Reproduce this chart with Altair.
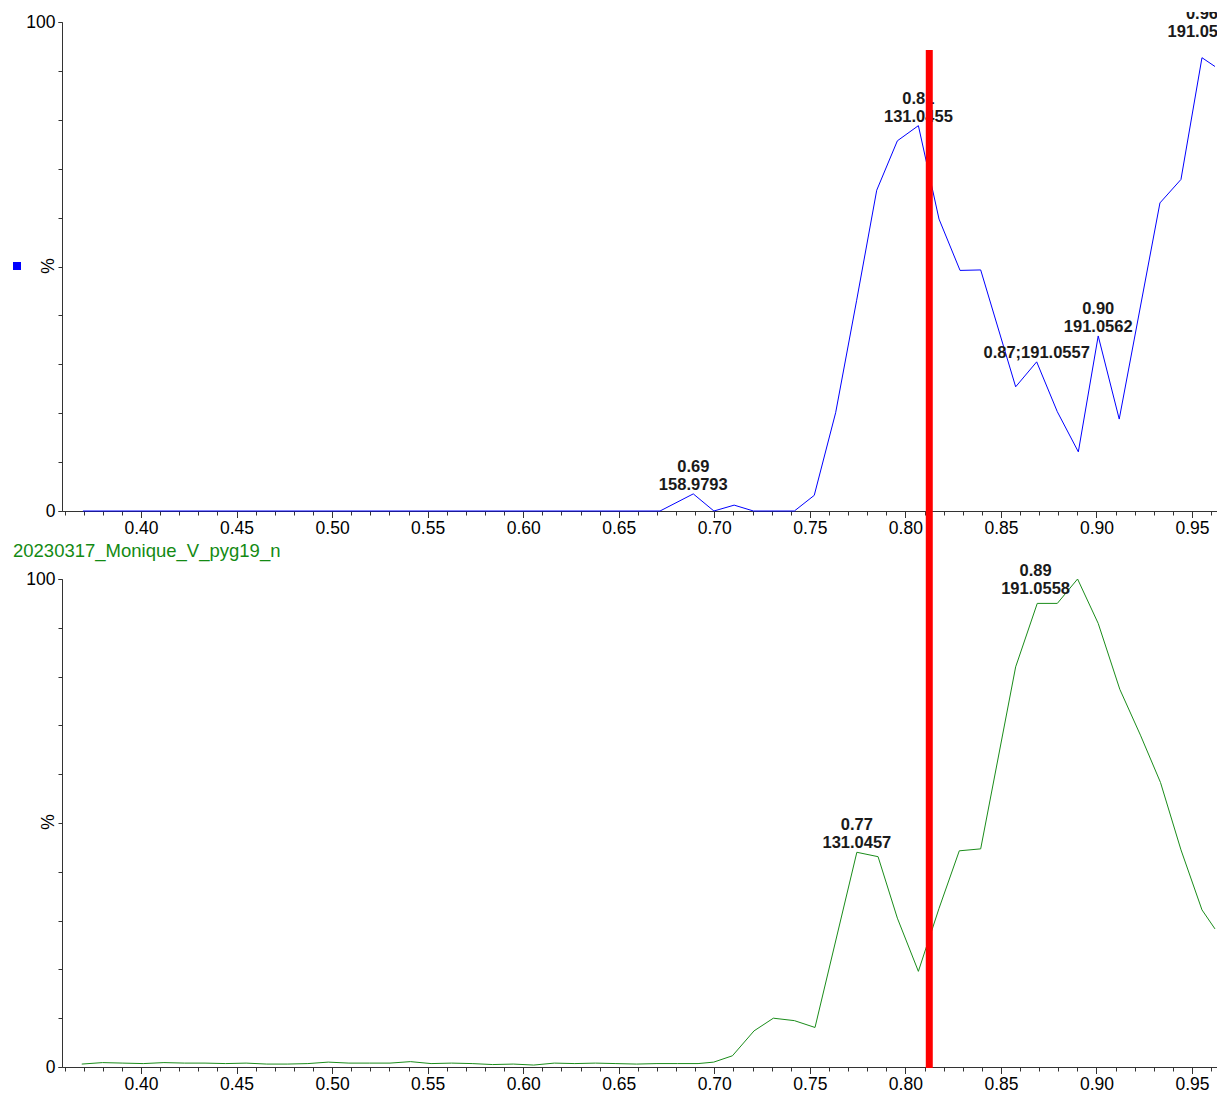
import altair as alt
import pandas as pd

FONT = "Liberation Sans"
BLUE = "#0000ff"
GREEN = "#1a8c1a"
HEADER_GREEN = "#138a13"

# Upper trace: retention time (min) and relative intensity (%)
TOP_RT = [0.3696, 0.6716, 0.6890, 0.6998, 0.7104, 0.7205, 0.7419, 0.7523,
          0.7635, 0.7745, 0.7850, 0.7958, 0.8068, 0.8176, 0.8286, 0.8394,
          0.8577, 0.8687, 0.8795, 0.8905, 0.9009, 0.9119, 0.9332, 0.9442,
          0.9552, 0.9620]
TOP_PCT = [0.0, 0.0, 3.5, 0.0, 1.2, 0.0, 0.0, 3.2,
           20.1, 43.1, 65.6, 75.7, 78.8, 59.7, 49.2, 49.3,
           25.4, 30.5, 20.3, 12.1, 35.8, 18.8, 63.0, 67.8,
           92.7, 90.9]

# Lower trace: 20230317_Monique_V_pyg19_n
BOT_RT = [0.3690, 0.3799, 0.3905, 0.4012, 0.4120, 0.4228, 0.4335, 0.4443,
          0.4550, 0.4658, 0.4765, 0.4873, 0.4980, 0.5088, 0.5195, 0.5303,
          0.5410, 0.5518, 0.5625, 0.5733, 0.5840, 0.5948, 0.6055, 0.6163,
          0.6270, 0.6378, 0.6485, 0.6593, 0.6700, 0.6808, 0.6915, 0.6997,
          0.7095, 0.7208, 0.7309, 0.7419, 0.7527, 0.7746, 0.7857, 0.7958,
          0.8068, 0.8176, 0.8282, 0.8394, 0.8577, 0.8690, 0.8795, 0.8901,
          0.9009, 0.9122, 0.9230, 0.9335, 0.9442, 0.9552, 0.9620]
BOT_PCT = [0.6, 0.9, 0.8, 0.7, 0.9, 0.8, 0.8, 0.7,
           0.8, 0.6, 0.6, 0.7, 1.0, 0.8, 0.8, 0.8,
           1.1, 0.7, 0.8, 0.7, 0.5, 0.6, 0.4, 0.8,
           0.7, 0.8, 0.7, 0.6, 0.7, 0.7, 0.7, 1.0,
           2.3, 7.4, 10.0, 9.5, 8.1, 44.0, 43.1, 30.5,
           19.6, 32.5, 44.3, 44.7, 82.0, 95.0, 95.0, 100.0,
           90.9, 77.4, 68.0, 58.3, 44.5, 32.2, 28.3]

# Peak annotations: apex retention time, apex intensity, m/z, one-line flag
TOP_PEAK_RT = [0.6890, 0.8068, 0.9009, 0.8687, 0.9552]
TOP_PEAK_PCT = [3.5, 78.8, 35.8, 30.5, 92.7]
TOP_PEAK_MZ = ["158.9793", "131.0455", "191.0562", "191.0557", "191.0561"]
TOP_PEAK_INLINE = [False, False, False, True, False]

BOT_PEAK_RT = [0.7746, 0.8901]
BOT_PEAK_PCT = [44.0, 100.0]
BOT_PEAK_MZ = ["131.0457", "191.0558"]
BOT_PEAK_INLINE = [False, False]

MARKER_RT = [0.8125]
SAMPLE_NAME = "20230317_Monique_V_pyg19_n"

X_DOMAIN = [0.35866, 0.96306]
X_MAJOR = [0.40, 0.45, 0.50, 0.55, 0.60, 0.65, 0.70, 0.75, 0.80, 0.85, 0.90, 0.95]
X_MINOR = [round(0.36 + 0.01 * i, 2) for i in range(61)]
Y_MAJOR = [0, 100]
Y_MINOR = list(range(0, 101, 10))

# Layout (pixels inside the plot area)
W, H = 1155, 1055
TOP_RANGE = [499, 10]
BOT_RANGE = [1055, 567]
LINE_H = 18
TICK_FONT = 17.5


def peak_table(rt, pct, mz, inline):
    rows = []
    for t, p, m, one in zip(rt, pct, mz, inline):
        sep = ";" if one else "\n"
        rows.append({"rt": t, "pct": p, "label": f"{t:.2f}{sep}{m}"})
    return pd.DataFrame(rows)


top_df = pd.DataFrame({"rt": TOP_RT, "pct": TOP_PCT})
bot_df = pd.DataFrame({"rt": BOT_RT, "pct": BOT_PCT})
top_peaks = peak_table(TOP_PEAK_RT, TOP_PEAK_PCT, TOP_PEAK_MZ, TOP_PEAK_INLINE)
bot_peaks = peak_table(BOT_PEAK_RT, BOT_PEAK_PCT, BOT_PEAK_MZ, BOT_PEAK_INLINE)

x_scale = alt.Scale(domain=X_DOMAIN, nice=False, zero=False)


def x_major_axis(offset):
    return alt.Axis(
        orient="bottom", offset=offset, values=X_MAJOR, title=None, grid=False,
        format=".2f", labelFont=FONT, labelFontSize=TICK_FONT, labelColor="black",
        labelOverlap=False, labelFlush=False, labelPadding=1.5,
        tickSize=6.5, tickColor="#333", domainColor="#333",
    )


def x_minor_axis(offset):
    return alt.Axis(
        orient="bottom", offset=offset, values=X_MINOR, title=None, grid=False,
        labels=False, domain=False, tickSize=4, tickColor="#333",
    )


def y_major_axis():
    return alt.Axis(
        orient="left", values=Y_MAJOR, title=None, grid=False, format="d",
        labelFont=FONT, labelFontSize=TICK_FONT, labelColor="black",
        labelOverlap=False, labelFlush=False, labelPadding=3,
        tickSize=4, tickColor="#333", domainColor="#333",
    )


def y_minor_axis():
    return alt.Axis(
        orient="left", values=Y_MINOR, title=None, grid=False,
        labels=False, domain=False, tickSize=4, tickColor="#333",
    )


def peak_labels(df, dx=0, dy=-1, x_axis=None, y_axis=None):
    return alt.Chart(df).mark_text(
        font=FONT, fontSize=16.5, fontWeight="bold", color="#1a1a1a",
        lineBreak="\n", lineHeight=LINE_H, baseline="bottom", align="center",
        dx=dx, dy=dy, clip=True,
    ).encode(
        x=alt.X("rt:Q", axis=x_axis),
        y=alt.Y("pct:Q", axis=y_axis),
        text="label:N",
    )


def pct_title(y_px):
    return alt.Chart(pd.DataFrame({"t": ["%"]})).mark_text(
        font=FONT, fontSize=TICK_FONT, color="black", angle=270,
        align="center", baseline="middle",
    ).encode(x=alt.value(-13), y=alt.value(y_px), text="t:N")


# Upper panel
top_line = alt.Chart(top_df).mark_line(color=BLUE, strokeWidth=1, clip=True).encode(
    x=alt.X("rt:Q", scale=x_scale, axis=x_major_axis(-556)),
    y=alt.Y("pct:Q", scale=alt.Scale(domain=[0, 100], range=TOP_RANGE, nice=False),
            axis=y_major_axis()),
)
top_panel = alt.layer(
    top_line,
    peak_labels(top_peaks.iloc[:3], dy=-1 - LINE_H,
                x_axis=x_minor_axis(-556), y_axis=y_minor_axis()),
    peak_labels(top_peaks.iloc[3:4], dy=-1),
    peak_labels(top_peaks.iloc[4:], dy=-18 - LINE_H),
).resolve_axis(x="independent", y="independent")

# Lower panel
bot_line = alt.Chart(bot_df).mark_line(color=GREEN, strokeWidth=1, clip=True).encode(
    x=alt.X("rt:Q", scale=x_scale, axis=x_major_axis(0)),
    y=alt.Y("pct:Q", scale=alt.Scale(domain=[0, 100], range=BOT_RANGE, nice=False),
            axis=y_major_axis()),
)
bot_panel = alt.layer(
    bot_line,
    peak_labels(bot_peaks.iloc[:1], dy=-1 - LINE_H,
                x_axis=x_minor_axis(0), y_axis=y_minor_axis()),
    peak_labels(bot_peaks.iloc[1:], dx=-42, dy=17.5 - LINE_H),
).resolve_axis(x="independent", y="independent")

# Retention-time cursor across both traces
cursor = alt.Chart(pd.DataFrame({"rt": MARKER_RT})).mark_rule(
    color="#ff0000", strokeWidth=7
).encode(
    x=alt.X("rt:Q", axis=None),
    y=alt.value(38),
    y2=alt.value(1056),
)

trace_marker = alt.Chart(pd.DataFrame({"k": [0]})).mark_square(
    color=BLUE, size=64, opacity=1, filled=True
).encode(x=alt.value(-45), y=alt.value(254))

header = alt.Chart(pd.DataFrame({"name": [SAMPLE_NAME]})).mark_text(
    font=FONT, fontSize=18.5, color=HEADER_GREEN, align="left", baseline="middle"
).encode(x=alt.value(-49), y=alt.value(539), text="name:N")

chart = (
    alt.layer(top_panel, bot_panel, cursor, trace_marker, header,
              pct_title(254), pct_title(810))
    .resolve_scale(y="independent")
    .resolve_axis(x="independent", y="independent")
    .properties(
        width=W, height=H,
        padding={"left": 62, "top": 12, "right": 0, "bottom": 26},
        autosize=alt.AutoSizeParams(type="none"),
        background="white",
    )
    .configure_view(stroke=None)
)

chart.save("out.html", embed_options={"renderer": "svg", "actions": False})
